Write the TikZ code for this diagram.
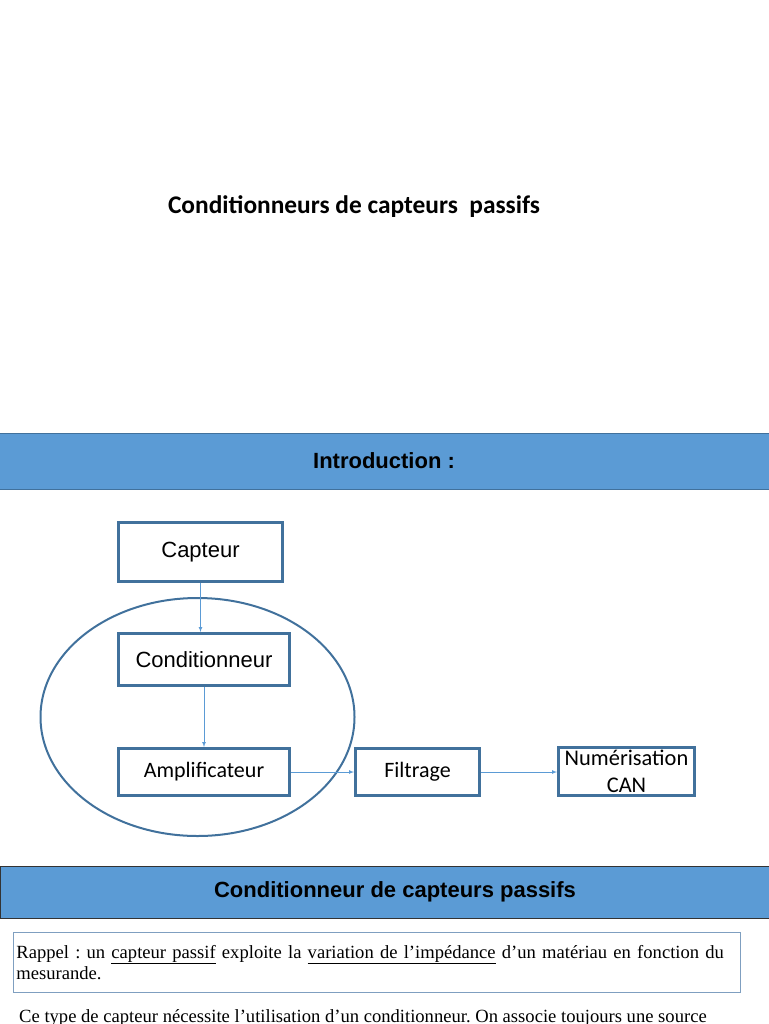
\documentclass[tikz,border=0pt]{standalone}
\usepackage{fontspec}
\setmainfont{Liberation Serif}
\newfontfamily\calibri{Carlito}
\newfontfamily\arial{Liberation Sans}
\definecolor{boxblue}{HTML}{41719C}
\definecolor{bandblue}{HTML}{5B9BD5}
\definecolor{frameblue}{HTML}{7F9FC0}
\frenchspacing
\begin{document}
\begin{tikzpicture}[
      x=1pt,y=-1pt,
      >=latex,
      block/.style={
        draw=boxblue,line width=3pt,inner sep=0pt,align=center,
        font=\fontsize{22}{27}\selectfont
      },
      band/.style={
        fill=bandblue,line width=1pt
      },
      link/.style={
        ->,draw=bandblue,line width=0.7pt
      },
    ]
    \useasboundingbox (0,0) rectangle (768,1024);
    \node[font=\calibri\bfseries\fontsize{25.4}{30}\selectfont] (title) at (354,207)
      {Conditionneurs de capteurs\ \ passifs};
    \filldraw[band,draw=boxblue] (-1,433) rectangle (769,489);
    \node[font=\arial\bfseries\fontsize{22}{26}\selectfont] (intro) at (384,461) {Introduction :};
    \node[block,font=\arial\fontsize{22}{27}\selectfont,minimum width=164,minimum height=59] (capt) at (200.5,552) {Capteur};
    \node[block,font=\arial\fontsize{22}{27}\selectfont,minimum width=171,minimum height=52] (cond) at (204,659.5) {Conditionneur};
    \node[block,font=\calibri\fontsize{22}{27}\selectfont,minimum width=171,minimum height=47] (ampl) at (204,772) {Amplificateur};
    \node[block,font=\calibri\fontsize{22}{27}\selectfont,minimum width=124,minimum height=47] (filt) at (417.5,772) {Filtrage};
    \node[block,font=\calibri\fontsize{22.4}{27}\selectfont,minimum width=136,minimum height=48] (num) at (626.5,771.5) {Numérisation\\CAN};
    \draw[boxblue,line width=2pt] (197.5,717) ellipse (157 and 119);
    \draw[link] (capt.south) -- (capt.south |- cond.north);
    \draw[link] (cond.south) -- (ampl.north);
    \draw[link] (ampl.east) -- (filt.west);
    \draw[link] (filt.east) -- (num.west |- filt.east);
    \filldraw[band,draw=black!80] (0,866) rectangle (769,918);
    \node[font=\arial\bfseries\fontsize{22}{26}\selectfont] (passifs) at (395,892) {Conditionneur de capteurs passifs};
    \node[draw=frameblue,line width=0.8pt,anchor=north west,text width=721,inner xsep=3pt,inner ysep=0pt,
      minimum height=60,align=left,font=\fontsize{18.6}{21.5}\selectfont] (rappel) at (13,932)
      {Rappel : un \underline{capteur passif} exploite la \underline{variation de l’impédance} d’un matériau en fonction du\\mesurande.};
    \begin{scope}
      \clip (0,0) rectangle (768,1024);
      \node[anchor=base west,inner sep=0pt,font=\fontsize{18.6}{21.5}\selectfont] (suite) at (19,1022)
        {Ce type de capteur nécessite l’utilisation d’un conditionneur. On associe toujours une source};
    \end{scope}
  \end{tikzpicture}
\end{document}
